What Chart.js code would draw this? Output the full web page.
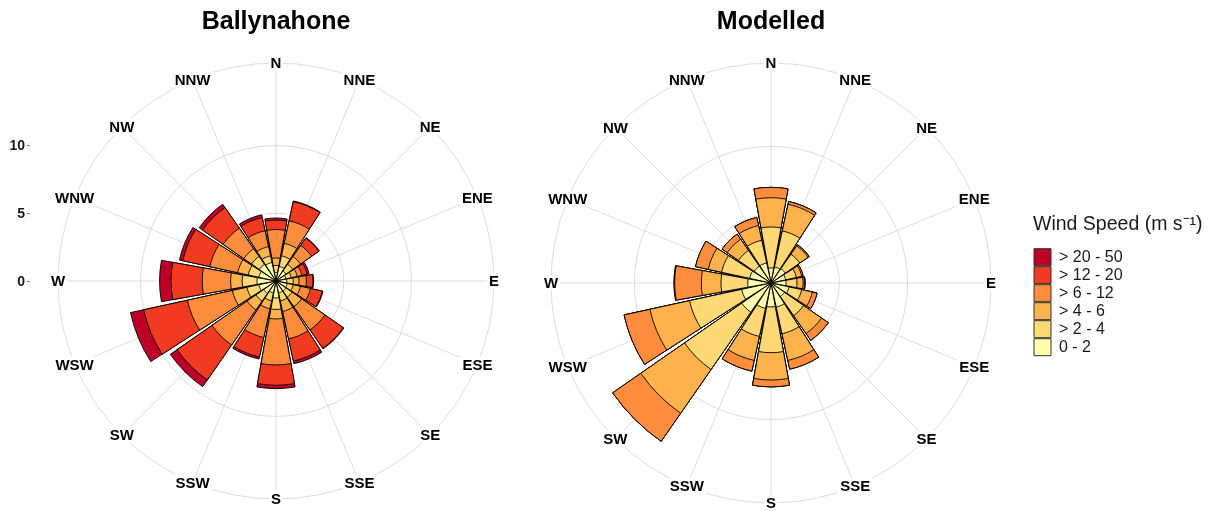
<!DOCTYPE html>
<html>
<head>
<meta charset="utf-8">
<title>Wind roses</title>
<script src="https://cdn.jsdelivr.net/npm/chart.js@4.4.1/dist/chart.umd.min.js"></script>
<style>
  html, body { margin: 0; padding: 0; background: #fff; }
  #wrap { position: relative; width: 1212px; height: 511px; overflow: hidden; }
  .panel { position: absolute; top: 0; height: 511px; }
  #left { left: 0; width: 540px; }
  #right { left: 500px; width: 712px; }
</style>
</head>
<body>
<div id="wrap">
  <div class="panel" id="left"><canvas id="ballynahone"></canvas></div>
  <div class="panel" id="right"><canvas id="modelled"></canvas></div>
</div>
<script>
'use strict';

const directions = ['N', 'NNE', 'NE', 'ENE', 'E', 'ESE', 'SE', 'SSE', 'S', 'SSW', 'SW', 'WSW', 'W', 'WNW', 'NW', 'NNW'];
const speedBands = ['0 - 2', '> 2 - 4', '> 4 - 6', '> 6 - 12', '> 12 - 20', '> 20 - 50'];
const bandColours = ['#FFFFB2', '#FED976', '#FEB24C', '#FD8D3C', '#F03B20', '#BD0026'];
const yTicks = [0, 5, 10];
const radialMax = 16.1;

// frequency (%) in each speed band, one value per direction (N clockwise)
const bally0to2   = [0.63, 1.1, 0.9, 0.75, 0.8, 0.85, 0.9, 0.9, 1.25, 0.9, 1.1, 1.3, 1.4, 1.3, 1.5, 1.4];
const bally2to4   = [0.52, 0.8, 0.6, 0.4, 0.47, 0.45, 0.55, 0.6, 0.85, 0.6, 0.7, 0.9, 1.1, 0.8, 0.7, 0.5];
const bally4to6   = [0.55, 0.95, 0.7, 0.45, 0.43, 0.55, 0.85, 0.8, 0.7, 0.6, 0.8, 1.1, 0.85, 0.8, 0.7, 0.7];
const bally6to12  = [2.1, 1.7, 1.0, 0.35, 0.54, 0.75, 2.1, 2.07, 3.4, 2.17, 3.15, 3.4, 2.1, 2.1, 1.85, 1.2];
const bally12to20 = [0.7, 1.45, 0.65, 0.4, 0.49, 0.9, 1.65, 1.68, 1.5, 1.48, 3.15, 3.3, 2.3, 2.05, 1.85, 1.0];
const bally20to50 = [0.15, 0.05, 0.05, 0.15, 0.05, 0.05, 0.05, 0.2, 0.25, 0.15, 0.6, 1.0, 0.85, 0.25, 0.3, 0.2];

const model0to2   = [1.1, 1.2, 1.27, 1.1, 1.1, 1.35, 1.2, 1.8, 1.75, 1.9, 2.6, 2.2, 1.7, 1.6, 1.5, 1.5];
const model2to4   = [3.0, 2.7, 1.29, 0.8, 0.8, 0.95, 1.7, 2.0, 3.35, 2.1, 5.1, 3.9, 1.96, 2.1, 1.4, 1.7];
const model4to6   = [2.14, 2.0, 0.74, 0.4, 0.45, 0.8, 1.6, 2.0, 2.0, 1.8, 3.9, 2.97, 1.44, 1.0, 1.0, 1.1];
const model6to12  = [0.76, 0.2, 0.1, 0.1, 0.1, 0.35, 0.6, 0.65, 0.5, 0.8, 2.5, 1.93, 1.95, 0.95, 0.45, 0.6];
const model12to20 = [0, 0, 0, 0, 0.05, 0, 0, 0, 0, 0, 0, 0, 0.05, 0, 0, 0];
const model20to50 = [0, 0, 0, 0, 0, 0, 0, 0, 0, 0, 0, 0, 0, 0, 0, 0];

const FONT = '"Liberation Sans", Arial, Helvetica, sans-serif';
const GRID = '#dcdcdc';
const barAngle = 20.5;                 // degrees per petal
const gapAngle = 360 / directions.length - barAngle;

Chart.defaults.font.family = FONT;
Chart.defaults.color = '#000';

// compass labels sit on the outer ring, drawn from the scale's own positions
const compassLabels = {
    id: 'compassLabels',
    afterDatasetsDraw(chart) {
        const scale = chart.scales.r2;
        const ctx = chart.ctx;
        ctx.save();
        ctx.font = `bold 15px ${FONT}`;
        ctx.textAlign = 'center';
        ctx.textBaseline = 'middle';
        directions.forEach((label, i) => {
            const p = scale.getPointPosition(i, scale.drawingArea);
            const w = ctx.measureText(label).width;
            ctx.fillStyle = '#fff';
            ctx.fillRect(p.x - w / 2 - 2, p.y - 8, w + 4, 16);
            ctx.fillStyle = '#000';
            ctx.fillText(label, p.x, p.y + 1);
        });
        ctx.restore();
    }
};

// legend box is sized from its items only; let its title run to the canvas edge
const legendRoom = {
    id: 'legendRoom',
    afterLayout(chart) {
        const lg = chart.legend;
        if (lg) { lg.right = chart.width; lg.width = lg.right - lg.left; }
    }
};

// stacked petals: every band is drawn as a full wedge of its cumulative total,
// smallest on top, so the visible part of each wedge is that band's share
function buildDatasets(bands) {
    let running = directions.map(() => 0);
    const cumulative = bands.map(band => (running = running.map((v, i) => v + band[i])));
    return cumulative.map((totals, b) => ({
        label: speedBands[b],
        rAxisID: 'r',
        data: totals.flatMap(v => [v, 0]),
        backgroundColor: c => (c.dataIndex % 2 ? 'rgba(0,0,0,0)' : bandColours[b]),
        borderColor: '#000',
        borderWidth: c => (c.dataIndex % 2 ? 0 : 0.9),
        angle: c => (c.dataIndex % 2 ? gapAngle : barAngle)
    }));
}

function radialScales() {
    return {
        r: {
            type: 'radialLinear',
            min: 0, max: radialMax,
            startAngle: -barAngle / 2,
            ticks: { display: false },
            afterBuildTicks: s => { s.ticks = [...yTicks, radialMax].map(v => ({ value: v })); },
            grid: { circular: true, color: GRID, lineWidth: 1 },
            angleLines: { display: false },
            pointLabels: { display: false }
        },
        r2: {
            type: 'radialLinear',
            min: 0, max: radialMax,
            startAngle: 0,
            ticks: { display: false },
            grid: { display: false },
            angleLines: { display: true, color: GRID, lineWidth: 1 },
            pointLabels: { display: false }
        }
    };
}

function titleOpts(text) {
    return {
        display: true, text, fullSize: false, color: '#000',
        font: { size: 25, weight: 'bold' },
        padding: { top: 7, bottom: 26 }
    };
}

const left = new Chart(document.getElementById('ballynahone'), {
    type: 'polarArea',
    data: {
        labels: directions,
        datasets: buildDatasets([bally0to2, bally2to4, bally4to6, bally6to12, bally12to20, bally20to50])
    },
    plugins: [compassLabels],
    options: {
        responsive: true, maintainAspectRatio: false, animation: false, events: [],
        layout: { padding: { left: 0, right: 18, top: 0, bottom: 8 } },
        scales: {
            ...radialScales(),
            y: {
                type: 'linear', position: 'left',
                min: -radialMax, max: radialMax,
                afterBuildTicks: s => { s.ticks = yTicks.map(v => ({ value: v })); },
                afterFit: s => { s.width = 30; },
                ticks: { color: '#1a1a1a', padding: 2, font: { size: 14, weight: 'bold' } },
                grid: { drawOnChartArea: false, drawTicks: true, tickLength: 3, color: '#8c8c8c' },
                border: { display: false }
            }
        },
        plugins: {
            legend: { display: false },
            tooltip: { enabled: false },
            title: titleOpts('Ballynahone')
        }
    }
});

const right = new Chart(document.getElementById('modelled'), {
    type: 'polarArea',
    data: {
        labels: directions,
        datasets: buildDatasets([model0to2, model2to4, model4to6, model6to12, model12to20, model20to50])
    },
    plugins: [compassLabels, legendRoom],
    options: {
        responsive: true, maintainAspectRatio: false, animation: false, events: [],
        layout: { padding: { left: 9, right: 89, top: 0, bottom: 8 } },
        scales: radialScales(),
        plugins: {
            tooltip: { enabled: false },
            title: titleOpts('Modelled'),
            legend: {
                position: 'right',
                maxWidth: 90,
                title: {
                    display: true, text: 'Wind Speed (m s\u207B\u00B9)', position: 'start',
                    color: '#1a1a1a', font: { size: 19.5 },
                    padding: { top: 69, bottom: 9 }
                },
                labels: {
                    boxWidth: 17, boxHeight: 17, padding: 1,
                    color: '#1a1a1a', font: { size: 16 },
                    generateLabels: () => speedBands.map((band, i) => ({
                        text: band,
                        fillStyle: bandColours[i],
                        strokeStyle: '#333',
                        lineWidth: 1,
                        hidden: false,
                        datasetIndex: i
                    })).reverse()
                }
            }
        }
    }
});
</script>
</body>
</html>
